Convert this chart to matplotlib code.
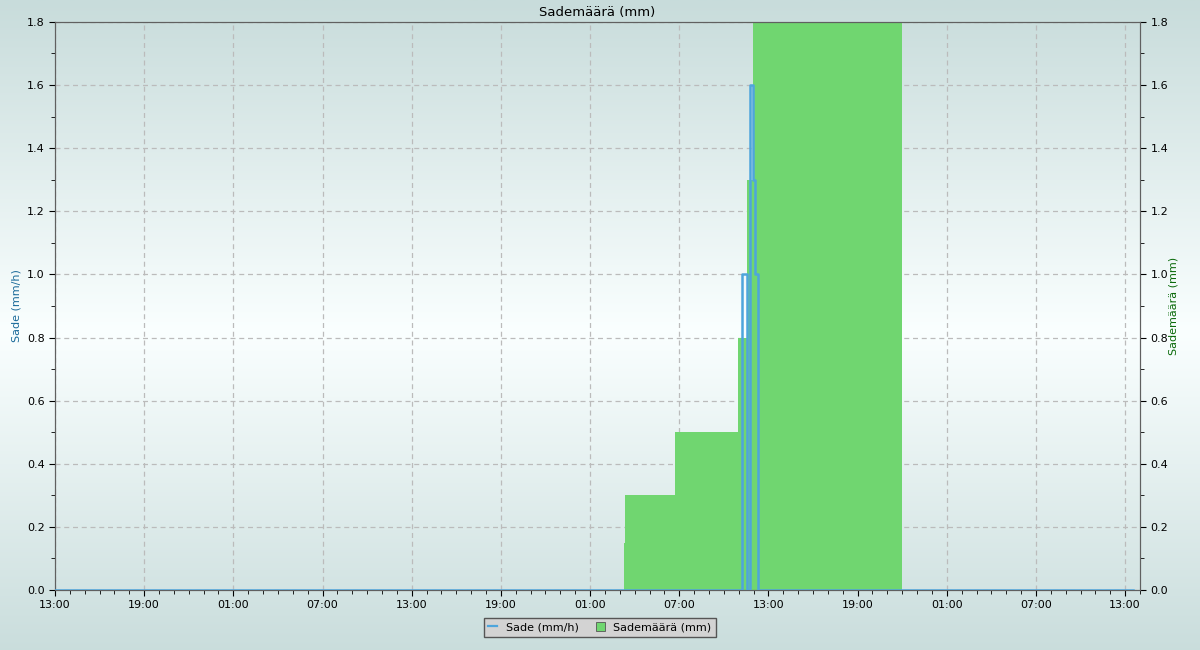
import numpy as np
import pandas as pd
import matplotlib
matplotlib.use("Agg")
from matplotlib import pyplot as plt
import matplotlib.dates as mdates
from matplotlib.lines import Line2D
from matplotlib.patches import Patch

# Sade (mm/h) - step line, left axis
sade_time = ["2023-08-14 13:00", "2023-08-16 11:15", "2023-08-16 11:32", "2023-08-16 11:44",
             "2023-08-16 11:58", "2023-08-16 12:04", "2023-08-16 12:18", "2023-08-17 13:30"]
sade_val = [0.0, 1.0, 0.0, 1.6, 1.3, 1.0, 0.0, 0.0]

# Sademäärä (mm) - cumulative, right axis
maara_time = ["2023-08-16 03:17", "2023-08-16 03:22", "2023-08-16 06:44", "2023-08-16 10:59",
              "2023-08-16 11:35", "2023-08-16 11:58", "2023-08-16 22:00"]
maara_val = [0.15, 0.3, 0.5, 0.8, 1.3, 1.8, 0.0]

x_start = "2023-08-14 13:00"
x_end = "2023-08-17 14:00"

blue = "#4ea5dc"
green = "#70d670"

fig = plt.figure(figsize=(12, 6.5), dpi=100)

# gradient background
bg = fig.add_axes([0, 0, 1, 1], zorder=-10)
yy = np.linspace(0, 1, 300)
w = np.clip(1 - np.abs(yy - 0.51) / 0.51, 0, 1)
top = np.array([200, 220, 219]) / 255
mid = np.array([250, 255, 255]) / 255
grad = top[None, :] * (1 - w[:, None]) + mid[None, :] * w[:, None]
bg.imshow(grad[:, None, :], aspect="auto", extent=[0, 1, 0, 1])
bg.axis("off")

# back axes: Sademäärä (right side), front axes: Sade (left side)
axm = fig.add_axes([0.0458, 0.0923, 0.9042, 0.874])
axs = axm.twinx()
axm.patch.set_visible(False)
axs.patch.set_visible(False)
axm.yaxis.tick_right()
axm.yaxis.set_label_position("right")
axs.yaxis.tick_left()
axs.yaxis.set_label_position("left")

st = pd.to_datetime(sade_time)
mt = pd.to_datetime(maara_time)

axm.fill_between(mt, maara_val, step="post", color=green, lw=0, zorder=2)
axs.step(st, sade_val, where="post", color=blue, lw=1.8, zorder=3)

for a in (axm, axs):
    a.set_xlim(pd.Timestamp(x_start), pd.Timestamp(x_end))
    a.set_ylim(0, 1.8)
    a.set_yticks(np.arange(0, 1.81, 0.2))
    a.set_yticks(np.arange(0.1, 1.8, 0.2), minor=True)
    a.yaxis.set_major_formatter(plt.FormatStrFormatter("%.1f"))
    a.tick_params(labelsize=8, length=4, color="black")
    a.tick_params(which="minor", length=3)
    for s in a.spines.values():
        s.set_color("#606060")

axm.xaxis.set_major_locator(mdates.HourLocator(byhour=[1, 7, 13, 19]))
axm.xaxis.set_minor_locator(mdates.HourLocator())
axm.xaxis.set_major_formatter(mdates.DateFormatter("%H:%M"))

axm.set_axisbelow(True)
axm.grid(True, which="major", ls=(0, (4, 3)), color="#bbbbbb", lw=0.9)

axs.set_ylabel("Sade (mm/h)", color="#1a6a9a", fontsize=8, labelpad=4)
axm.set_ylabel("Sademäärä (mm)", color="#0a6a0a", fontsize=8, labelpad=0)
axm.set_title("Sademäärä (mm)", fontsize=9.5, pad=4)

handles = [Line2D([], [], color=blue, lw=1.6),
           Patch(facecolor=green, edgecolor="#555555", lw=0.6)]
fig.legend(handles, ["Sade (mm/h)", "Sademäärä (mm)"], loc="lower center",
           bbox_to_anchor=(0.5, 0.02), borderaxespad=0, ncol=2, fontsize=8, fancybox=False,
           facecolor="#d3d3d3", edgecolor="#555555", framealpha=1,
           handlelength=0.8, handleheight=0.9, columnspacing=1.5, borderpad=0.4)

fig.savefig("out.png", dpi=100)
